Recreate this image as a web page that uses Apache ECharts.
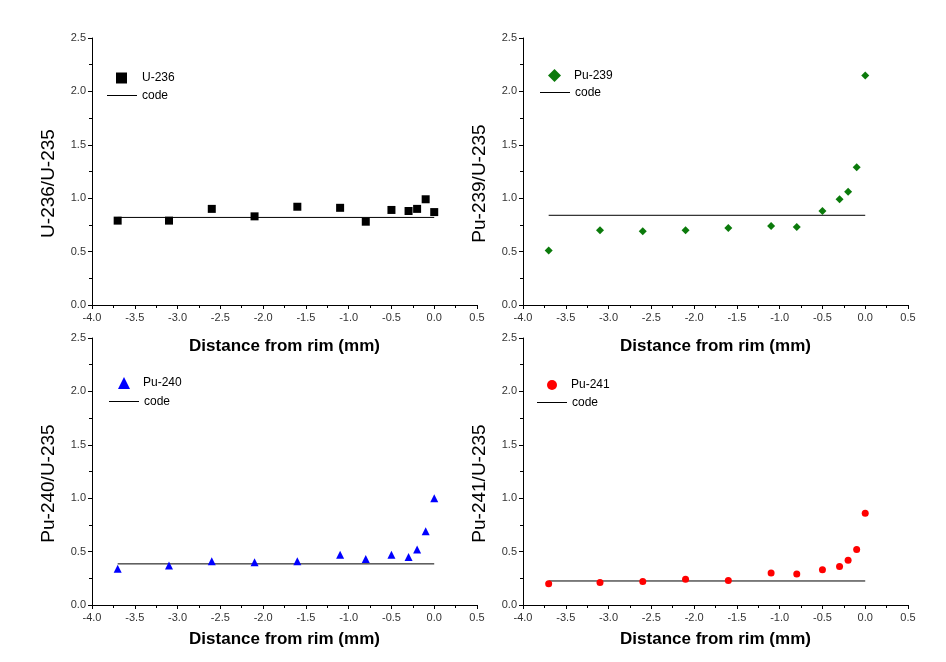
<!DOCTYPE html>
<html>
<head>
<meta charset="utf-8">
<script src="https://cdn.jsdelivr.net/npm/echarts@6/dist/echarts.min.js"></script>
<style>html,body{margin:0;padding:0;background:#fff}#c{width:946px;height:662px}</style>
</head>
<body>
<div id="c"></div>
<script>
// ---- data ----
const distance = [-3.7, -3.1, -2.6, -2.1, -1.6, -1.1, -0.8, -0.5, -0.3, -0.2, -0.1, 0.0];
const u236  = [0.79, 0.79, 0.90, 0.83, 0.92, 0.91, 0.78, 0.89, 0.88, 0.90, 0.99, 0.87];
const pu239 = [0.51, 0.70, 0.69, 0.70, 0.72, 0.74, 0.73, 0.88, 0.99, 1.06, 1.29, 2.15];
const pu240 = [0.34, 0.37, 0.41, 0.40, 0.41, 0.47, 0.43, 0.47, 0.45, 0.52, 0.69, 1.00];
const pu241 = [0.20, 0.21, 0.22, 0.24, 0.23, 0.30, 0.29, 0.33, 0.36, 0.42, 0.52, 0.86];
const codeX = [-3.7, 0.0];
const codeU236  = [0.82, 0.82];
const codePu239 = [0.84, 0.84];
const codePu240 = [0.385, 0.385];
const codePu241 = [0.225, 0.225];
const seriesNames = ['U-236', 'Pu-239', 'Pu-240', 'Pu-241'];
const yTitles = ['U-236/U-235', 'Pu-239/U-235', 'Pu-240/U-235', 'Pu-241/U-235'];
const xTitle = 'Distance from rim (mm)';
const lineName = 'code';

// ---- layout / styles ----
const FONT = 'Liberation Sans, Arial, sans-serif';
const panels = [
  {left: 92, top: 38, vals: u236, code: codeU236, sym: 'rect', size: 8, color: '#000000', lsz: 11,
   sl: 116, st: 72, spad: 10, ll: 107, lt: 89.5, xgap: 33},
  {left: 523, top: 38, vals: pu239, code: codePu239, sym: 'diamond', size: 8, color: '#0b7a0b', lsz: 13,
   sl: 548, st: 69, spad: 8, ll: 540, lt: 86.5, xgap: 33},
  {left: 92, top: 338, vals: pu240, code: codePu240, sym: 'triangle', size: 8, color: '#0000ff', lsz: 12,
   sl: 118, st: 377, spad: 8, ll: 109, lt: 395.5, xgap: 26},
  {left: 523, top: 338, vals: pu241, code: codePu241, sym: 'circle', size: 7, color: '#ff0000', lsz: 10,
   sl: 547, st: 379, spad: 9, ll: 537, lt: 396.5, xgap: 26}
];
const W = 385, H = 267;

const grid = [], xAxis = [], yAxis = [], series = [], legend = [];
panels.forEach((p, i) => {
  const codeName = lineName + ' '.repeat(i);
  grid.push({left: p.left, top: p.top, width: W, height: H, containLabel: false});
  xAxis.push({
    type: 'value', gridIndex: i, min: -4, max: 0.5, interval: 0.5,
    name: xTitle, nameLocation: 'middle', nameGap: p.xgap,
    nameTextStyle: {fontFamily: FONT, fontSize: 17, fontWeight: 'bold', color: '#000'},
    axisLine: {show: true, onZero: false, lineStyle: {color: '#000', width: 1}},
    axisTick: {show: true, inside: false, length: 4, lineStyle: {color: '#000'}},
    minorTick: {show: true, splitNumber: 2, length: 3, lineStyle: {color: '#000'}},
    axisLabel: {fontFamily: FONT, fontSize: 11, color: '#333', margin: 7,
      formatter: v => v.toFixed(1)},
    splitLine: {show: false}
  });
  yAxis.push({
    type: 'value', gridIndex: i, min: 0, max: 2.5, interval: 0.5,
    name: yTitles[i], nameLocation: 'middle', nameGap: 34,
    nameTextStyle: {fontFamily: FONT, fontSize: 19, color: '#000', padding: [0, 24, 0, 0]},
    axisLine: {show: true, onZero: false, lineStyle: {color: '#000', width: 1}},
    axisTick: {show: true, inside: false, length: 4, lineStyle: {color: '#000'}},
    minorTick: {show: true, splitNumber: 2, length: 3, lineStyle: {color: '#000'}},
    axisLabel: {fontFamily: FONT, fontSize: 11, color: '#333', margin: 6,
      formatter: v => v.toFixed(1)},
    splitLine: {show: false}
  });
  series.push({
    type: 'scatter', name: seriesNames[i], xAxisIndex: i, yAxisIndex: i,
    symbol: p.sym, symbolSize: p.size, itemStyle: {color: p.color, opacity: 1},
    data: distance.map((d, k) => [d, p.vals[k]]), z: 3
  });
  series.push({
    type: 'line', name: codeName, xAxisIndex: i, yAxisIndex: i,
    symbol: 'none', lineStyle: {color: '#000', width: 1}, itemStyle: {color: '#000'},
    data: codeX.map((d, k) => [d, p.code[k]]), z: 2, silent: true
  });
  legend.push({
    left: p.sl, top: p.st, padding: 0, orient: 'vertical',
    itemWidth: p.lsz, itemHeight: p.lsz, selectedMode: false,
    data: [seriesNames[i]],
    textStyle: {fontFamily: FONT, fontSize: 12, color: '#000', padding: [0, 0, 0, p.spad]}
  });
  legend.push({
    left: p.ll, top: p.lt, padding: 0, orient: 'vertical',
    itemWidth: 30, itemHeight: 1, selectedMode: false,
    data: [{name: codeName, icon: 'rect', itemStyle: {color: '#000'}}],
    formatter: () => lineName,
    textStyle: {fontFamily: FONT, fontSize: 12, color: '#000'}
  });
});

const chart = echarts.init(document.getElementById('c'), null, {renderer: 'canvas'});
chart.setOption({
  backgroundColor: '#ffffff',
  animation: false,
  grid, xAxis, yAxis, series, legend
});
</script>
</body>
</html>
